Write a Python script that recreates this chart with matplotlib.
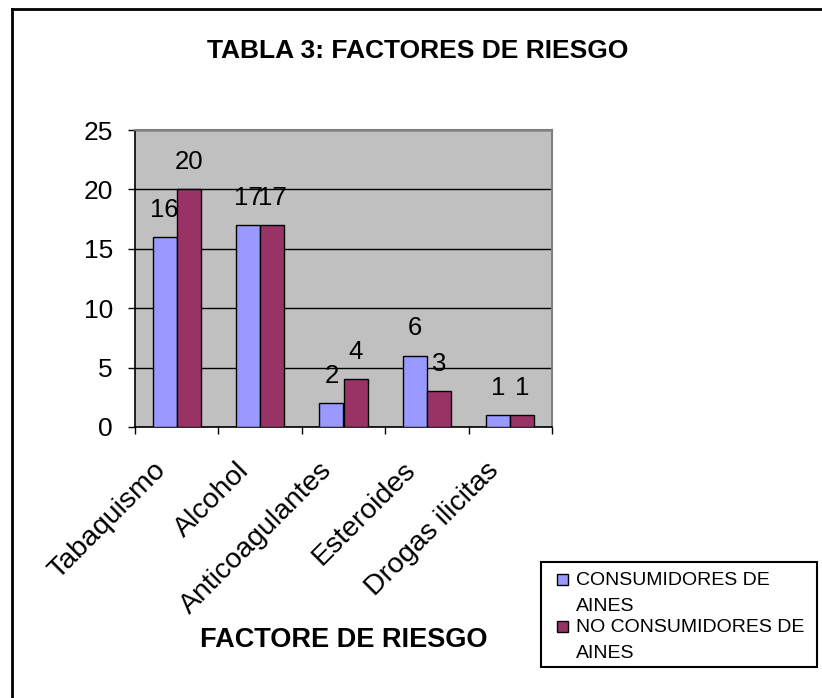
import matplotlib
matplotlib.use("Agg")
import matplotlib.pyplot as plt
import numpy as np
from matplotlib.lines import Line2D
from matplotlib.patches import Rectangle

categories = ["Tabaquismo", "Alcohol", "Anticoagulantes", "Esteroides", "Drogas ilicitas"]
consumidores = [16, 17, 2, 6, 1]
no_consumidores = [20, 17, 4, 3, 1]
series_names = ["CONSUMIDORES DE\nAINES", "NO CONSUMIDORES DE\nAINES"]
series_colors = ["#9999FF", "#993366"]
yticks = [0, 5, 10, 15, 20, 25]

plt.rcParams["font.family"] = ["Liberation Sans", "DejaVu Sans"]

W, H = 822, 698
fig = plt.figure(figsize=(W / 100, H / 100), dpi=100)
fig.patch.set_facecolor("white")

def fx(px):
    return px / W

def fy(py):
    return 1 - py / H

ax = fig.add_axes([fx(135), fy(427), fx(552) - fx(135), fy(130) - fy(427)])
ax.set_facecolor("#C0C0C0")

x = np.arange(len(categories))
bw = 0.29
ax.bar(x - bw / 2, consumidores, bw, color=series_colors[0], edgecolor="black", linewidth=1, zorder=3)
ax.bar(x + bw / 2, no_consumidores, bw, color=series_colors[1], edgecolor="black", linewidth=1, zorder=3)

for xi, v in zip(x - bw / 2, consumidores):
    ax.annotate(str(v), (xi, v), xytext=(0, 11), textcoords="offset points",
                ha="center", va="bottom", fontsize=18.5)
for xi, v in zip(x + bw / 2, no_consumidores):
    ax.annotate(str(v), (xi, v), xytext=(0, 11), textcoords="offset points",
                ha="center", va="bottom", fontsize=18.5)

ax.set_xlim(-0.5, len(categories) - 0.5)
ax.set_ylim(0, 25)
ax.set_yticks(yticks)
ax.set_yticklabels([str(t) for t in yticks], fontsize=19)
ax.yaxis.grid(True, color="black", linewidth=1, zorder=1)
ax.set_axisbelow(True)

# category boundaries carry the tick marks; labels sit at centers
ax.set_xticks(np.arange(len(categories) + 1) - 0.5)
ax.set_xticklabels([])
ax.tick_params(axis="x", direction="out", length=5, width=1, color="black")
ax.tick_params(axis="y", direction="out", length=5, width=1, color="black", pad=11)
for xi, lab in zip(x, categories):
    ax.text(xi - 0.29, -2.55, lab, rotation=45, ha="right", va="top",
            rotation_mode="anchor", fontsize=20.5, transform=ax.transData)

for side in ["left", "bottom"]:
    ax.spines[side].set_color("black")
    ax.spines[side].set_linewidth(1.2)
for side in ["top", "right"]:
    ax.spines[side].set_color("#808080")
    ax.spines[side].set_linewidth(1.5)

fig.text(fx(418), fy(51), "TABLA 3: FACTORES DE RIESGO", ha="center", va="center",
         fontsize=19, fontweight="bold")
fig.text(fx(344), fy(640), "FACTORE DE RIESGO", ha="center", va="center",
         fontsize=19.5, fontweight="bold")

# outer chart frame
fig.add_artist(Line2D([fx(12), fx(12)], [fy(9), 0], color="black", linewidth=2))
fig.add_artist(Line2D([fx(12), 1], [fy(9), fy(9)], color="black", linewidth=2))

# legend box
fig.add_artist(Rectangle((fx(541), fy(667)), fx(817) - fx(541), fy(562) - fy(667),
                         transform=fig.transFigure, facecolor="white",
                         edgecolor="black", linewidth=1.5))
entry_y = [580, 627]
for name, col, ey in zip(series_names, series_colors, entry_y):
    fig.add_artist(Rectangle((fx(557), fy(ey + 5)), fx(11), fy(ey - 6) - fy(ey + 5),
                             transform=fig.transFigure, facecolor=col,
                             edgecolor="black", linewidth=1))
    fig.text(fx(576), fy(ey - 8), name, ha="left", va="top", fontsize=14,
             linespacing=1.7)

fig.savefig("out.png", dpi=100)
